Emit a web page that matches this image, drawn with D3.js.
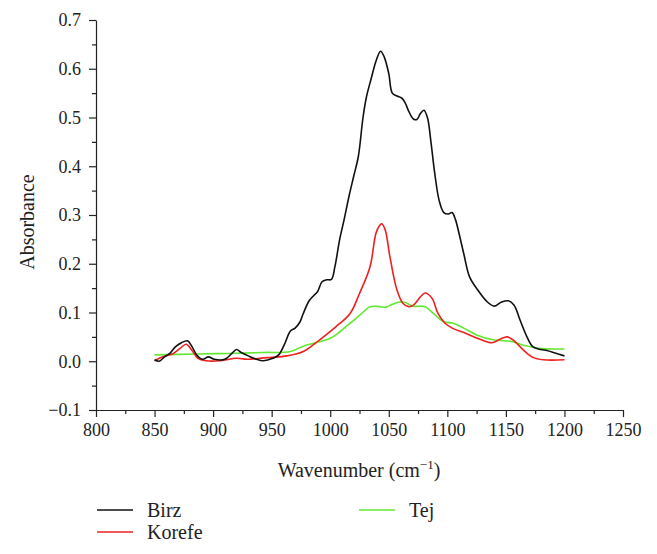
<!DOCTYPE html>
<meta charset="utf-8">
<style>
body { margin: 0; background: #fff; }
svg { display: block; }
.axis path, .axis line { stroke: #222; stroke-width: 1.2px; }
.axis text { font-family: "Liberation Serif", "DejaVu Serif", "Times New Roman", serif; font-size: 18px; fill: #222; }
.label { font-family: "Liberation Serif", "DejaVu Serif", "Times New Roman", serif; font-size: 20px; fill: #222; }
.series { fill: none; stroke-width: 1.6px; stroke-linejoin: round; }
</style>
<body>
<div id="chart"></div>
<script src="https://d3js.org/d3.v7.min.js"></script>
<script>
// wavenumber (cm-1) and absorbance
var birzWave = [850, 854, 858, 863, 868, 873, 878, 882, 886, 891, 896, 901, 910, 916, 920, 924, 930, 937, 943, 951, 956, 961, 966, 970, 974, 977, 982, 986, 989, 993, 997, 1001, 1004, 1008, 1012, 1016, 1020, 1024, 1028, 1031, 1035, 1039, 1043, 1046, 1050, 1053, 1057, 1061, 1064, 1067, 1071, 1074, 1077, 1080, 1083, 1086, 1089, 1093, 1097, 1101, 1104, 1107, 1110, 1114, 1119, 1126, 1134, 1140, 1146, 1152, 1157, 1162, 1168, 1173, 1180, 1185, 1192, 1200];
var birzAbs = [0.003, 0.0, 0.008, 0.016, 0.03, 0.038, 0.042, 0.03, 0.013, 0.004, 0.009, 0.004, 0.004, 0.016, 0.024, 0.018, 0.011, 0.004, 0.001, 0.006, 0.013, 0.035, 0.062, 0.068, 0.08, 0.098, 0.124, 0.135, 0.142, 0.163, 0.167, 0.168, 0.194, 0.249, 0.292, 0.338, 0.379, 0.42, 0.5, 0.543, 0.58, 0.615, 0.636, 0.625, 0.59, 0.55, 0.544, 0.54, 0.53, 0.513, 0.497, 0.496, 0.508, 0.515, 0.5, 0.45, 0.39, 0.33, 0.305, 0.302, 0.305, 0.29, 0.262, 0.221, 0.173, 0.146, 0.122, 0.113, 0.121, 0.124, 0.115, 0.085, 0.05, 0.03, 0.024, 0.022, 0.017, 0.011];

var korefeWave = [850, 857, 866, 872, 877, 882, 887, 894, 906, 920, 929, 943, 950, 963, 977, 991, 1005, 1017, 1025, 1034, 1039, 1042, 1044, 1047, 1051, 1057, 1062, 1067, 1071, 1077, 1081, 1087, 1092, 1098, 1105, 1116, 1128, 1138, 1145, 1151, 1156, 1165, 1173, 1182, 1200];
var korefeAbs = [0.001, 0.009, 0.016, 0.027, 0.035, 0.022, 0.006, 0.001, 0.001, 0.006, 0.004, 0.007, 0.008, 0.011, 0.02, 0.044, 0.071, 0.098, 0.139, 0.194, 0.262, 0.278, 0.282, 0.269, 0.214, 0.146, 0.119, 0.112, 0.115, 0.132, 0.14, 0.129, 0.098, 0.078, 0.067, 0.057, 0.045, 0.038, 0.045, 0.05, 0.044, 0.023, 0.008, 0.003, 0.003];

var tejWave = [850, 886, 914, 943, 966, 977, 1000, 1008, 1017, 1026, 1034, 1042, 1048, 1053, 1062, 1071, 1081, 1088, 1097, 1105, 1114, 1125, 1139, 1156, 1165, 1176, 1200];
var tejAbs = [0.013, 0.015, 0.016, 0.018, 0.02, 0.031, 0.047, 0.06, 0.078, 0.096, 0.112, 0.112, 0.111, 0.117, 0.122, 0.113, 0.112, 0.098, 0.081, 0.078, 0.068, 0.054, 0.044, 0.04, 0.033, 0.027, 0.025];

var seriesNames = ["Birz", "Korefe", "Tej"];
var seriesColors = ["#111111", "#ee2020", "#62e830"];

var xTicks = [800, 850, 900, 950, 1000, 1050, 1100, 1150, 1200, 1250];
var yTicks = [-0.1, 0.0, 0.1, 0.2, 0.3, 0.4, 0.5, 0.6, 0.7];

var width = 657, height = 554;

var x = d3.scaleLinear().domain([800, 1250]).range([96, 623]);
var y = d3.scaleLinear().domain([-0.1, 0.7]).range([410, 20]);

var svg = d3.select("#chart").append("svg")
    .attr("width", width)
    .attr("height", height);

// minor ticks first, then major axes on top
svg.append("g")
    .attr("class", "axis")
    .attr("transform", "translate(0," + y(-0.1) + ")")
    .call(d3.axisBottom(x).tickValues(d3.range(825, 1250, 50)).tickSize(4).tickFormat(""))
    .call(function(g) { g.select(".domain").remove(); });

svg.append("g")
    .attr("class", "axis")
    .attr("transform", "translate(" + x(800) + ",0)")
    .call(d3.axisLeft(y).tickValues(d3.range(-0.05, 0.7, 0.1)).tickSize(4).tickFormat(""))
    .call(function(g) { g.select(".domain").remove(); });

svg.append("g")
    .attr("class", "axis")
    .attr("transform", "translate(0," + y(-0.1) + ")")
    .call(d3.axisBottom(x).tickValues(xTicks).tickSize(7).tickSizeOuter(0).tickPadding(6).tickFormat(d3.format("d")));

svg.append("g")
    .attr("class", "axis")
    .attr("transform", "translate(" + x(800) + ",0)")
    .call(d3.axisLeft(y).tickValues(yTicks).tickSize(7).tickSizeOuter(0).tickPadding(8).tickFormat(d3.format(".1f")));

// axis titles
svg.append("text")
    .attr("class", "label")
    .attr("transform", "translate(34,222) rotate(-90)")
    .attr("text-anchor", "middle")
    .text("Absorbance");

var xl = svg.append("text")
    .attr("class", "label")
    .attr("x", 359)
    .attr("y", 477)
    .attr("text-anchor", "middle");
xl.append("tspan").text("Wavenumber (cm");
xl.append("tspan").attr("dy", -8).style("font-size", "13px").text("\u22121");
xl.append("tspan").attr("dy", 8).text(")");

// spectra
var line = d3.line()
    .x(function(d) { return x(d[0]); })
    .y(function(d) { return y(d[1]); })
    .curve(d3.curveCatmullRom.alpha(0.5));

var series = [
  d3.zip(birzWave, birzAbs),
  d3.zip(korefeWave, korefeAbs),
  d3.zip(tejWave, tejAbs)
];

// draw Tej first so the others sit on top
[2, 1, 0].forEach(function(i) {
  svg.append("path")
    .datum(series[i])
    .attr("class", "series")
    .attr("stroke", seriesColors[i])
    .attr("d", line);
});

// legend
var legendPos = [[97, 510], [97, 532], [359, 510]];
seriesNames.forEach(function(name, i) {
  var p = legendPos[i];
  svg.append("line")
    .attr("x1", p[0]).attr("x2", p[0] + 36)
    .attr("y1", p[1]).attr("y2", p[1])
    .attr("stroke", seriesColors[i])
    .attr("stroke-width", 1.6);
  svg.append("text")
    .attr("class", "label")
    .attr("x", p[0] + 50)
    .attr("y", p[1] + 7)
    .text(name);
});
</script>
</body>
